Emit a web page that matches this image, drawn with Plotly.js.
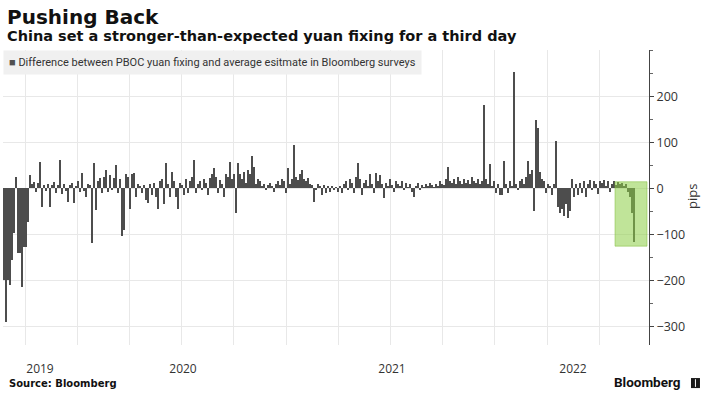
<!DOCTYPE html>
<html>
<head>
<meta charset="utf-8">
<script src="https://cdn.plot.ly/plotly-3.0.1.min.js"></script>
<style>
  html, body { margin: 0; padding: 0; background: #fff; }
  #chart { width: 702px; height: 399px; }
</style>
</head>
<body>
<div id="chart"></div>
<script>
const late2018 = [-200,-290,-200,-210,-157,-98,25,-140,-141,-215,-128,-128,-73];
const period2019a = [28,10,14,-8,12,57,-40,8,-6,10,-40,6,14,-10,8,62,-12,10,-6,-30,8,12,-33,5,16,-8,32,-6,-19,10,8,-120,54,-48,15,22,-10,25,39,-8,28,-5,22,50,-10,20];
const period2019b = [-104,-90,30,25,-46,30,32,-20,10,5,-10,8,-25,-32,10,-15,12,-20,-46,15,20,-35,54,10,-20,36,15,-20,-46,12,8,-15,20,-10,15,25,62,-10,10,15,-5,20,12,-15,22,30,43,25,-10,18,10,-20,30,25,57,20,30,-55,54,30,20,35,12,40,30,71];
const period2020 = [45,10,20,15,5,10,-5,8,12,5,-8,10,15,8,20,15,-10,43,10,20,95,25,18,30,39,20,15,22,10,8,-30,-5,10,5,-15,8,-10,5,-8,5,-5,3,-8,5,-10,10,15,-5,20,12,-10,25,55,20,-15,12,18,5,30,10,-10,32,15,28,10,-22];
const period2021a = [12,5,20,8,-8,15,10,5,15,-5,12,3,10,-8,-20,5,12,-3,8,3,10,5,12,8,3,10,5,15,10,8,20,45,15,12,20,10,25,15,10,20,12,18,10,25,15,12,20,10,15,180,20,10,52,5,15,-10,10,-15,-15,59,10,-10,15,5,252];
const period2021b = [10,-5,15,20,10,25,59,30,40,-50,149,130,35,20,15,-10,10,5,-15,10,102,-40,-55,-45,-60,-35,-64,-50,21,-20,10,-15,12,-10,15,-20,10,18,-5,15,10,-12,15,12,18,5,15,-8,10,15,8,14,10,12,5,10,-8,-20,-55,-117];

const laterPips = [].concat(period2019a, period2019b, period2020, period2021a, period2021b);
const earlyIdx = late2018.map((_, k) => k);
const laterIdx = laterPips.map((_, k) => k + late2018.length);

// x-axis labels (positions in bar index units)
const yearLabels = ['2019', '2020', '2021', '2022'];
const yearTickIdx = [18, 89.5, 194, 284.5];
const yTicks = [-300, -200, -100, 0, 100, 200];

// highlighted latest days
const highlight = { from: 306, to: 321.5, low: -126, high: 14 };

const seriesName = 'Difference between PBOC yuan fixing and average esitmate in Bloomberg surveys';

const traces = [
  {
    type: 'bar', x: earlyIdx, y: late2018,
    marker: { color: '#4d4d4d', line: { width: 0 } },
    width: 1, hoverinfo: 'skip', showlegend: false
  },
  {
    type: 'bar', x: laterIdx, y: laterPips,
    marker: { color: '#4d4d4d', line: { width: 0 } },
    width: 0.6, hoverinfo: 'skip', showlegend: false
  }
];

const layout = {
  width: 702,
  height: 399,
  paper_bgcolor: '#ffffff',
  plot_bgcolor: '#ffffff',
  margin: { l: 3, r: 53, t: 50, b: 54 },
  barmode: 'overlay',
  bargap: 0,
  showlegend: false,
  xaxis: {
    range: [-0.5, 322.5],
    tickmode: 'array',
    tickvals: yearTickIdx,
    ticktext: yearLabels,
    showgrid: false,
    zeroline: false,
    showline: false,
    ticks: 'outside',
    ticklen: 13,
    tickcolor: 'rgba(0,0,0,0)',
    tickfont: { family: 'Open Sans', size: 12, color: '#333333' },
    minor: { tickmode: 'linear', tick0: 10.5, dtick: 26.1, showgrid: true, gridcolor: '#e8e8e8', gridwidth: 1, ticks: '' },
    fixedrange: true
  },
  yaxis: {
    side: 'right',
    range: [-341, 300.5],
    tickmode: 'array',
    tickvals: yTicks,
    showgrid: true,
    gridcolor: '#e8e8e8',
    gridwidth: 1,
    zeroline: false,
    showline: true,
    linecolor: '#444444',
    linewidth: 1,
    ticks: 'outside',
    ticklen: 4,
    tickcolor: '#444444',
    tickfont: { family: 'Open Sans', size: 12.5, color: '#333333' },
    minor: { tickmode: 'linear', tick0: 0, dtick: 50, ticks: 'outside', ticklen: 3, tickcolor: '#666666', showgrid: false },
    fixedrange: true
  },
  shapes: [
    {
      type: 'rect', xref: 'x', yref: 'y', layer: 'above',
      x0: highlight.from - 0.5, x1: highlight.to,
      y0: highlight.low, y1: highlight.high,
      fillcolor: 'rgba(140,205,70,0.55)',
      line: { width: 1, color: 'rgba(130,190,60,0.5)' }
    },
    {
      type: 'rect', xref: 'paper', yref: 'paper',
      x0: 1.0650, x1: 1.0789, y0: -0.146, y1: -0.112,
      fillcolor: '#1a1a1a', line: { width: 0 }
    },
    {
      type: 'line', xref: 'paper', yref: 'paper',
      x0: 1.0719, x1: 1.0719, y0: -0.142, y1: -0.116,
      line: { width: 1, color: '#ffffff' }
    }
  ],
  annotations: [
    {
      xref: 'paper', yref: 'paper', x: 0.0031, y: 1.1119, xanchor: 'left', yanchor: 'middle',
      text: '<b>Pushing Back</b>', showarrow: false,
      font: { family: 'DejaVu Sans', size: 20, color: '#111111' }
    },
    {
      xref: 'paper', yref: 'paper', x: 0.0031, y: 1.0475, xanchor: 'left', yanchor: 'middle',
      text: '<b>China set a stronger-than-expected yuan fixing for a third day</b>', showarrow: false,
      font: { family: 'DejaVu Sans', size: 14.5, color: '#111111' }
    },
    {
      xref: 'paper', yref: 'paper', x: 0, y: 1, xanchor: 'left', yanchor: 'top',
      text: '<span style="color:#505050">■</span> ' + seriesName, showarrow: false,
      bgcolor: '#f0f0f0', borderpad: 5,
      font: { family: 'Roboto', size: 11, color: '#333333' }
    },
    {
      xref: 'paper', yref: 'paper', x: 1.0666, y: 0.5017, xanchor: 'center', yanchor: 'middle',
      text: 'pips', textangle: -90, showarrow: false,
      font: { family: 'Open Sans', size: 13, color: '#333333' }
    },
    {
      xref: 'paper', yref: 'paper', x: 0.0062, y: -0.1322, xanchor: 'left', yanchor: 'middle',
      text: '<b>Source: Bloomberg</b>', showarrow: false,
      font: { family: 'DejaVu Sans', size: 10, color: '#111111' }
    },
    {
      xref: 'paper', yref: 'paper', x: 1.0527, y: -0.1254, xanchor: 'right', yanchor: 'middle',
      text: '<b>Bloomberg</b>', showarrow: false,
      font: { family: 'Roboto', size: 13.5, color: '#111111' }
    }
  ]
};

Plotly.newPlot('chart', traces, layout, { staticPlot: true, displayModeBar: false });
</script>
</body>
</html>
